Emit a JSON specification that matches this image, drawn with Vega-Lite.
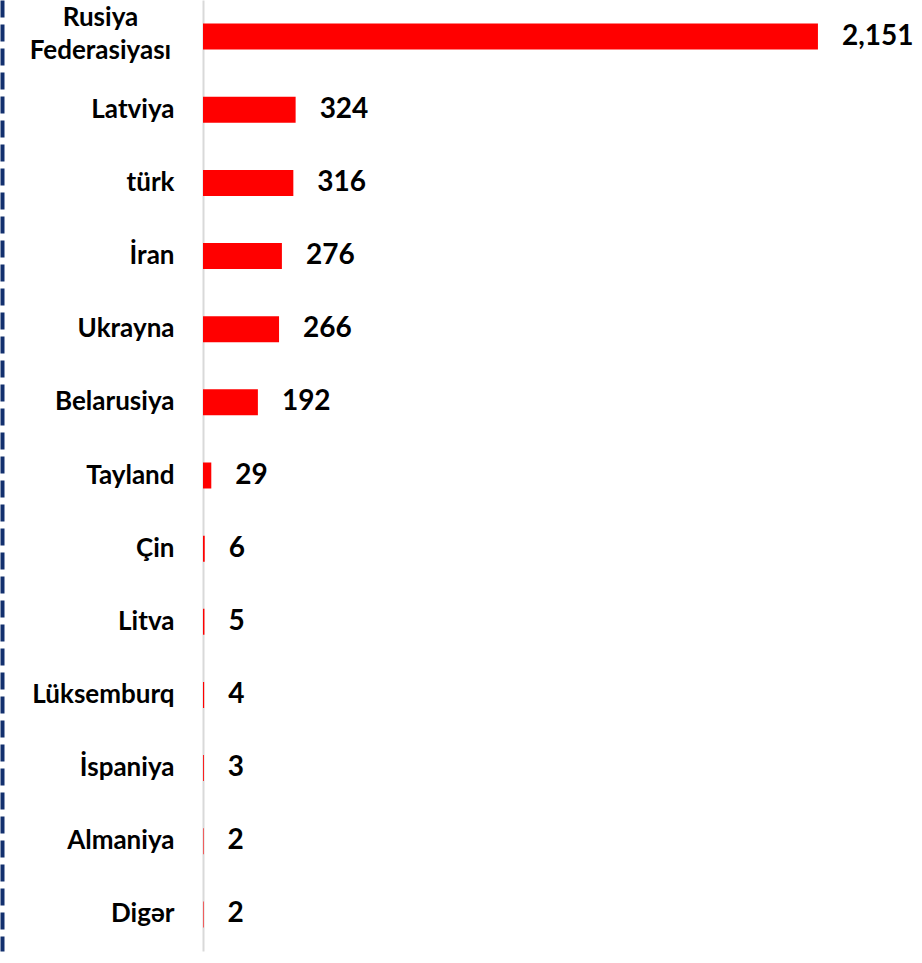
{
  "$schema": "https://vega.github.io/schema/vega-lite/v6.json",
  "autosize": {"type": "none"},
  "padding": {"left": 203, "top": 0, "right": 0, "bottom": 12},
  "width": 719,
  "height": 951,
  "background": "white",
  "config": {"view": {"stroke": null}},
  "data": {
    "values": [
      {"country": "Rusiya Federasiyası", "value": 2151},
      {"country": "Latviya", "value": 324},
      {"country": "türk", "value": 316},
      {"country": "İran", "value": 276},
      {"country": "Ukrayna", "value": 266},
      {"country": "Belarusiya", "value": 192},
      {"country": "Tayland", "value": 29},
      {"country": "Çin", "value": 6},
      {"country": "Litva", "value": 5},
      {"country": "Lüksemburq", "value": 4},
      {"country": "İspaniya", "value": 3},
      {"country": "Almaniya", "value": 2},
      {"country": "Digər", "value": 2}
    ]
  },
  "encoding": {
    "y": {"field": "country", "type": "nominal", "sort": null, "scale": {"paddingInner": 0, "paddingOuter": 0}},
    "x": {"field": "value", "type": "quantitative", "scale": {"domain": [0, 2515], "nice": false}, "axis": null}
  },
  "layer": [
    {
      "mark": {"type": "bar", "color": "#ff0000", "size": 26},
      "encoding": {
        "y": {
          "field": "country", "type": "nominal", "sort": null,
          "axis": {
            "title": null,
            "ticks": false,
            "domainColor": "#d9d9d9",
            "domainWidth": 2,
            "labelFont": "Lato",
            "labelFontWeight": "bold",
            "labelFontSize": 26,
            "labelColor": "#000000",
            "labelLineHeight": 33,
            "labelLimit": 300,
            "labelExpr": "datum.value == 'Rusiya Federasiyası' ? ['Rusiya', 'Federasiyası'] : datum.value",
            "labelAlign": {"condition": {"test": "datum.value == 'Rusiya Federasiyası'", "value": "center"}, "value": "right"},
            "labelPadding": {"condition": {"test": "datum.value == 'Rusiya Federasiyası'", "value": 103}, "value": 29},
            "labelOffset": {"condition": {"test": "datum.value == 'Rusiya Federasiyası'", "value": -19}, "value": 0}
          }
        }
      }
    },
    {
      "mark": {"type": "text", "align": "left", "baseline": "middle", "dx": 24, "font": "Lato", "fontWeight": "bold", "fontSize": 28, "color": "#000000"},
      "encoding": {
        "y": {
          "field": "country", "type": "nominal", "sort": null,
          "axis": {
            "orient": "left",
            "offset": 201,
            "title": null,
            "labels": false,
            "ticks": false,
            "domainColor": "#13306e",
            "domainWidth": 4,
            "domainDash": [17, 7]
          }
        },
        "text": {"field": "value", "type": "quantitative", "format": ","}
      }
    }
  ],
  "resolve": {"axis": {"y": "independent"}}
}
